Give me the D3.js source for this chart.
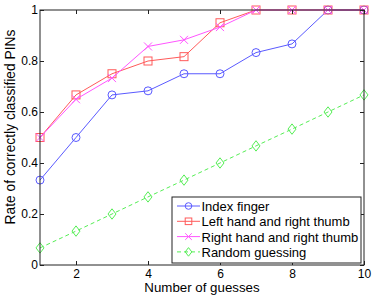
<!DOCTYPE html>
<html>
<head>
<meta charset="utf-8">
<script src="https://cdn.jsdelivr.net/npm/d3@7"></script>
<style>
	body { margin: 0; background: #fff; }
	text { font-family: "Liberation Sans", Arial, sans-serif; }
</style>
</head>
<body>
<svg id="chart" width="374" height="297"></svg>
<script>
let guesses = [1, 2, 3, 4, 5, 6, 7, 8, 9, 10];
let indexFinger = [0.333, 0.5, 0.667, 0.683, 0.75, 0.75, 0.833, 0.867, 1, 1];
let leftHand = [0.5, 0.667, 0.75, 0.8, 0.817, 0.95, 1, 1, 1, 1];
let rightHand = [0.5, 0.65, 0.733, 0.857, 0.883, 0.933, 1, 1, 1, 1];
let randomGuess = [0.067, 0.133, 0.2, 0.267, 0.333, 0.4, 0.467, 0.533, 0.6, 0.667];
let seriesNames = ["Index finger", "Left hand and right thumb", "Right hand and right thumb", "Random guessing"];
let xTicks = [2, 4, 6, 8, 10];
let yTicks = [0, 0.2, 0.4, 0.6, 0.8, 1];

let styles = [
	{ color: "#5a5aff", marker: "circle", dash: null },
	{ color: "#ff5a5a", marker: "square", dash: null },
	{ color: "#ff55ff", marker: "cross", dash: null },
	{ color: "#55ee55", marker: "diamond", dash: "4,3" }
];
let allSeries = [indexFinger, leftHand, rightHand, randomGuess];

let mLeft = 40, mRight = 364, mTop = 10, mBottom = 265;

let x = d3.scaleLinear().domain([1, 10]).range([mLeft, mRight]);
let y = d3.scaleLinear().domain([0, 1]).range([mBottom, mTop]);

let svg = d3.select("#chart");

function drawMarker(g, type, cx, cy, s, color) {
	if (type == "circle") {
		g.append("circle").attr("cx", cx).attr("cy", cy).attr("r", s)
			.attr("fill", "none").attr("stroke", color);
	} else if (type == "square") {
		g.append("rect").attr("x", cx - s).attr("y", cy - s)
			.attr("width", 2 * s).attr("height", 2 * s)
			.attr("fill", "none").attr("stroke", color);
	} else if (type == "cross") {
		g.append("path")
			.attr("d", `M${cx - s},${cy - s}L${cx + s},${cy + s}M${cx - s},${cy + s}L${cx + s},${cy - s}`)
			.attr("stroke", color);
	} else {
		g.append("path")
			.attr("d", `M${cx},${cy - s * 1.3}L${cx + s},${cy}L${cx},${cy + s * 1.3}L${cx - s},${cy}Z`)
			.attr("fill", "none").attr("stroke", color);
	}
}

// series lines + markers
allSeries.forEach((vals, si) => {
	let st = styles[si];
	let pts = guesses.map((g, i) => [g, vals[i]]);
	let g = svg.append("g");
	g.append("path")
		.datum(pts)
		.attr("fill", "none")
		.attr("stroke", st.color)
		.attr("stroke-width", 1)
		.attr("stroke-dasharray", st.dash)
		.attr("d", d3.line().x(d => x(d[0])).y(d => y(d[1])));
	pts.forEach(p => drawMarker(g, st.marker, x(p[0]), y(p[1]), 4, st.color));
});

// axes box
svg.append("rect")
	.attr("x", mLeft).attr("y", mTop)
	.attr("width", mRight - mLeft).attr("height", mBottom - mTop)
	.attr("fill", "none").attr("stroke", "#222").attr("stroke-width", 1);

let bottomAxis = d3.axisBottom(x).tickValues(xTicks).tickSize(-4).tickPadding(4).tickFormat(d3.format("d"));
let topAxis = d3.axisTop(x).tickValues(xTicks).tickSize(-4).tickFormat("");
let leftAxis = d3.axisLeft(y).tickValues(yTicks).tickSize(-4).tickPadding(2).tickFormat(d => d == 0 || d == 1 ? d : d3.format(".1f")(d));
let rightAxis = d3.axisRight(y).tickValues(yTicks).tickSize(-4).tickFormat("");

[
	[bottomAxis, `translate(0,${mBottom})`],
	[topAxis, `translate(0,${mTop})`],
	[leftAxis, `translate(${mLeft},0)`],
	[rightAxis, `translate(${mRight},0)`]
].forEach(([ax, tr]) => {
	let a = svg.append("g").attr("transform", tr).call(ax);
	a.select(".domain").remove();
	a.selectAll("line").attr("stroke", "#222");
	a.selectAll("text").attr("font-size", 12).attr("fill", "#000")
		.style("font-family", "'Liberation Sans', Arial, sans-serif");
});

svg.append("text")
	.attr("x", (mLeft + mRight) / 2).attr("y", 292)
	.attr("text-anchor", "middle").attr("font-size", 13.3)
	.text("Number of guesses");

svg.append("text")
	.attr("transform", `translate(15,127) rotate(-90)`)
	.attr("text-anchor", "middle").attr("font-size", 13.8)
	.text("Rate of correctly classified PINs");

// legend
let lx = 172, ly = 197, lw = 189, lh = 66;
let legend = svg.append("g");
legend.append("rect")
	.attr("x", lx).attr("y", ly).attr("width", lw).attr("height", lh)
	.attr("fill", "#fff").attr("stroke", "#222");
seriesNames.forEach((name, i) => {
	let st = styles[i];
	let cy = ly + 9 + i * 15.3;
	legend.append("line")
		.attr("x1", lx + 5).attr("x2", lx + 28).attr("y1", cy).attr("y2", cy)
		.attr("stroke", st.color).attr("stroke-dasharray", st.dash);
	drawMarker(legend, st.marker, lx + 16.5, cy, 3.3, st.color);
	legend.append("text")
		.attr("x", lx + 29.5).attr("y", cy + 5)
		.attr("font-size", 13)
		.text(name);
});
</script>
</body>
</html>
